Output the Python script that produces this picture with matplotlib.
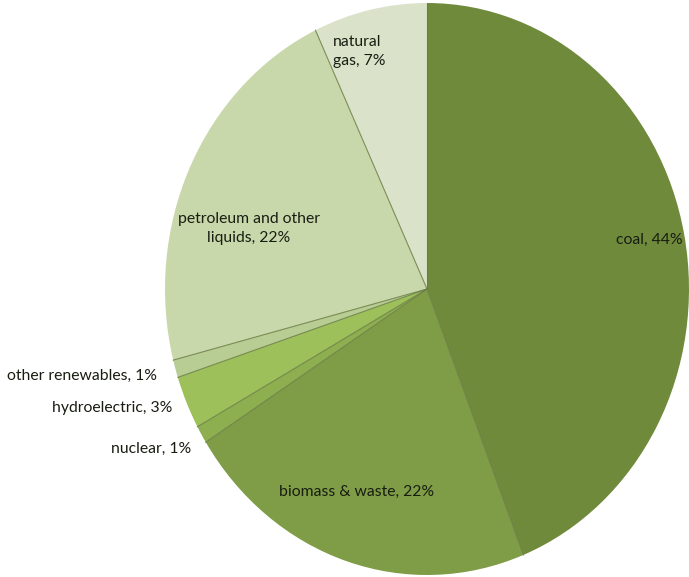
import matplotlib.pyplot as plt
import numpy

# energy sources, clockwise from the top
sources = ['coal', 'biomass & waste', 'nuclear', 'hydroelectric',
           'other renewables', 'petroleum and other\nliquids', 'natural\ngas']
shares = [44, 22, 1, 3, 1, 22, 7]
colors = ['#708a3c', '#7e9d46', '#8daf50', '#9dc05a',
          '#b8cd94', '#c9d8ab', '#dae3c9']

# label anchor (x, y in axes units) and horizontal alignment
label_pos = [(0.85, 0.17, 'center'), (-0.27, -0.71, 'center'),
             (-0.90, -0.56, 'right'), (-0.97, -0.415, 'right'),
             (-1.03, -0.305, 'right'), (-0.68, 0.21, 'center'),
             (-0.36, 0.83, 'left')]

plt.rcParams['font.family'] = ['Lato', 'DejaVu Sans']

fig = plt.figure(figsize=(6.89, 5.77), dpi=100)
ax = fig.add_axes([165 / 689, 2 / 577, 524 / 689, 572 / 577])

wedges, _ = ax.pie(shares, colors=colors, startangle=90,
                   counterclock=False, radius=1,
                   wedgeprops={'linewidth': 0})
ax.set_aspect('auto')
ax.set_xlim(-1, 1)
ax.set_ylim(-1, 1)
ax.axis('off')

# thin separators between the slices
bounds = numpy.cumsum([0] + shares) / 100.0
for b in bounds[:-1]:
    angle = numpy.pi / 2 - 2 * numpy.pi * b
    ax.plot([0, numpy.cos(angle)], [0, numpy.sin(angle)],
            color='#6a7d44', linewidth=0.8, alpha=0.85)

for name, value, (x, y, ha) in zip(sources, shares, label_pos):
    ax.text(x, y, '%s, %d%%' % (name, value), ha=ha, va='center',
            fontsize=11.3, color='#181d12', linespacing=1.45,
            multialignment='center' if ha == 'center' else 'left',
            clip_on=False)

fig.savefig('out.png', dpi=100)
